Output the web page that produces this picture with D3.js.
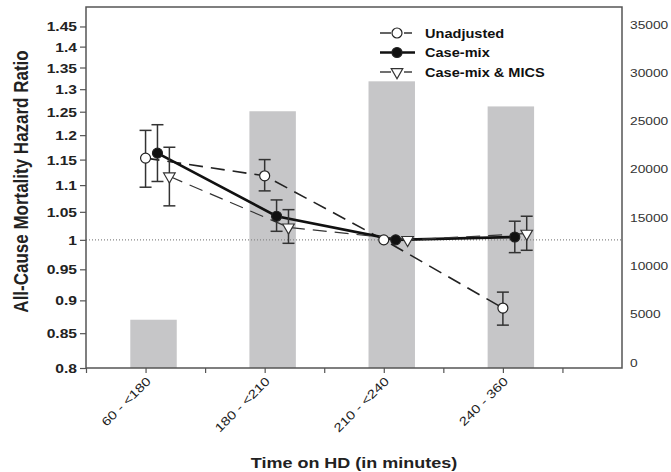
<!DOCTYPE html>
<html>
<head>
<meta charset="utf-8">
<script src="https://cdn.jsdelivr.net/npm/d3@7"></script>
<style>
  body { margin: 0; background: #fff; }
  svg { display: block; font-family: "Liberation Sans", Arial, sans-serif; }
</style>
</head>
<body>
<div class="g-chart"></div>
<script>
// categories + values
var categories = ["60 - <180", "180 - <210", "210 - <240", "240 - 360"];
var patientCounts = [5000, 26600, 29700, 27100];

var unadjusted   = [1.153, 1.118, 1.0, 0.888];
var unadjustedLo = [1.096, 1.089, null, 0.862];
var unadjustedHi = [1.210, 1.150, null, 0.913];

var caseMix   = [1.163, 1.042, 1.0, 1.005];
var caseMixLo = [1.107, 1.015, null, 0.978];
var caseMixHi = [1.222, 1.072, null, 1.033];

var caseMixMics   = [1.117, 1.022, 1.0, 1.011];
var caseMixMicsLo = [1.061, 0.994, null, 0.982];
var caseMixMicsHi = [1.175, 1.054, null, 1.042];

var leftTicks = [0.8, 0.85, 0.9, 0.95, 1, 1.05, 1.1, 1.15, 1.2, 1.25, 1.3, 1.35, 1.4, 1.45];
var rightTicks = [0, 5000, 10000, 15000, 20000, 25000, 30000, 35000];
var seriesNames = ["Unadjusted", "Case-mix", "Case-mix & MICS"];

var width = 671, height = 472;
var margin = {top: 7, right: 49, bottom: 104, left: 86};

var svg = d3.select(".g-chart").append("svg")
    .attr("width", width)
    .attr("height", height);

var x = d3.scaleLinear().domain([0, 4.5]).range([margin.left, width - margin.right]);
var y = d3.scaleLog().domain([0.8, 1.5]).range([height - margin.bottom, margin.top]);
var yR = d3.scaleLinear().domain([0, 37400]).range([height - margin.bottom, margin.top]);

var bottom = height - margin.bottom;
var sx = 1.25; // figure text is a bit wide

function fmt(v) { return String(+v.toFixed(2)); }

// bars (patients, right axis)
svg.selectAll(".bar")
    .data(patientCounts)
    .enter().append("rect")
    .attr("class", "bar")
    .attr("x", (d, i) => x(i + 0.565) - 23)
    .attr("width", x(0.39) - x(0))
    .attr("y", d => yR(d))
    .attr("height", d => bottom - yR(d))
    .style("fill", "#c6c6c8");

// reference line at HR = 1
svg.append("line")
    .attr("x1", x(0)).attr("x2", x(4.5))
    .attr("y1", y(1)).attr("y2", y(1))
    .style("stroke", "#888")
    .style("stroke-width", 1.2)
    .style("stroke-dasharray", "1,2");

// series
var series = [
  {name: seriesNames[0], vals: unadjusted, lo: unadjustedLo, hi: unadjustedHi, off: 0,
   stroke: "#222", sw: 1.6, dash: "14,8", marker: "open"},
  {name: seriesNames[1], vals: caseMix, lo: caseMixLo, hi: caseMixHi, off: 0.1,
   stroke: "#111", sw: 2.6, dash: null, marker: "filled"},
  {name: seriesNames[2], vals: caseMixMics, lo: caseMixMicsLo, hi: caseMixMicsHi, off: 0.2,
   stroke: "#333", sw: 1.2, dash: "14,8", marker: "tri"}
];

var line = d3.line();
var tri = d3.symbol().type(d3.symbolTriangle).size(58);

function drawMarker(g, kind, cx, cy) {
  if (kind == "tri") {
    g.append("path")
      .attr("d", tri())
      .attr("transform", `translate(${cx},${cy}) rotate(180)`)
      .style("fill", "#fff").style("stroke", "#333").style("stroke-width", 1.2);
  } else {
    g.append("circle")
      .attr("cx", cx).attr("cy", cy).attr("r", 5)
      .style("fill", kind == "filled" ? "#111" : "#fff")
      .style("stroke", "#222").style("stroke-width", 1.2);
  }
}

series.forEach(function(s) {
  var pts = s.vals.map((v, i) => [x(i + 0.5 + s.off), y(v)]);
  svg.append("path")
    .attr("d", line(pts))
    .style("fill", "none")
    .style("stroke", s.stroke)
    .style("stroke-width", s.sw)
    .style("stroke-dasharray", s.dash);
});

series.forEach(function(s) {
  var g = svg.append("g");
  s.vals.forEach(function(v, i) {
    var cx = x(i + 0.5 + s.off);
    if (s.lo[i] !== null) {
      g.append("line").attr("x1", cx).attr("x2", cx)
        .attr("y1", y(s.lo[i])).attr("y2", y(s.hi[i]));
      [s.lo[i], s.hi[i]].forEach(function(e) {
        g.append("line").attr("x1", cx - 6).attr("x2", cx + 6)
          .attr("y1", y(e)).attr("y2", y(e));
      });
    }
  });
  g.selectAll("line").style("stroke", "#333").style("stroke-width", 1.5);
  s.vals.forEach(function(v, i) {
    drawMarker(g, s.marker, x(i + 0.5 + s.off), y(v));
  });
});

// frame
svg.append("rect")
  .attr("x", x(0)).attr("y", margin.top)
  .attr("width", x(4.5) - x(0)).attr("height", bottom - margin.top)
  .style("fill", "none").style("stroke", "#555").style("stroke-width", 1.5);

// left axis
var yAxis = d3.axisLeft(y).tickValues(leftTicks).tickSize(6).tickFormat(fmt);
var gy = svg.append("g").attr("transform", `translate(${x(0)},0)`).call(yAxis);
gy.select(".domain").remove();
gy.selectAll(".tick line").style("stroke", "#555").style("stroke-width", 1.2);
gy.selectAll(".tick text")
  .attr("x", null).attr("dy", null)
  .attr("transform", `translate(-9,4.5) scale(${sx},1)`)
  .style("font-size", "12.5px").style("font-weight", "bold").style("fill", "#222");

// right axis (no tick marks)
var yAxisR = d3.axisRight(yR).tickValues(rightTicks).tickSize(0).tickFormat(d3.format("d"));
var gr = svg.append("g").attr("transform", `translate(${x(4.5) + 8},0)`).call(yAxisR);
gr.select(".domain").remove();
gr.selectAll(".tick text")
  .attr("x", null).attr("dy", null)
  .attr("transform", `translate(0,-2) scale(${sx},1)`)
  .style("font-size", "11px").style("fill", "#333");

// x axis: ticks at category centres and boundaries
var xTicks = d3.range(0, 4.5, 0.5);
var xAxis = d3.axisBottom(x).tickValues(xTicks).tickSize(5).tickFormat("");
var gx = svg.append("g").attr("transform", `translate(0,${bottom})`).call(xAxis);
gx.select(".domain").remove();
gx.selectAll(".tick line").style("stroke", "#555").style("stroke-width", 1.2);

svg.selectAll(".xlab")
  .data(categories)
  .enter().append("text")
  .attr("class", "xlab")
  .attr("transform", (d, i) => `translate(${x(i + 0.5) + 6},${bottom + 14}) rotate(-45) scale(${sx},1)`)
  .attr("text-anchor", "end")
  .style("font-size", "12px")
  .style("fill", "#222")
  .text(d => d);

// axis titles
svg.append("text")
  .attr("transform", `translate(28,${(margin.top + bottom) / 2 - 6}) rotate(-90) scale(1,1.15)`)
  .attr("text-anchor", "middle")
  .style("font-size", "17px").style("font-weight", "bold").style("fill", "#222")
  .text("All-Cause Mortality Hazard Ratio");

svg.append("text")
  .attr("transform", `translate(354,468) scale(1.2,1)`)
  .attr("text-anchor", "middle")
  .style("font-size", "15px").style("font-weight", "bold").style("fill", "#222")
  .text("Time on HD (in minutes)");

// legend
var legend = svg.append("g").attr("transform", "translate(380,33)");
series.forEach(function(s, k) {
  var ly = k * 19.5;
  var g = legend.append("g");
  if (s.dash) {
    g.append("line").attr("x1", 0).attr("x2", 11).attr("y1", ly).attr("y2", ly);
    g.append("line").attr("x1", 24).attr("x2", 32).attr("y1", ly).attr("y2", ly);
    g.selectAll("line").style("stroke", s.stroke).style("stroke-width", 1.4);
  } else {
    g.append("line").attr("x1", 0).attr("x2", 35).attr("y1", ly).attr("y2", ly)
      .style("stroke", s.stroke).style("stroke-width", s.sw);
  }
  drawMarker(g, s.marker, 17, ly);
  g.append("text")
    .attr("transform", `translate(45,${ly + 4.5}) scale(1.12,1)`)
    .style("font-size", "13px").style("font-weight", "bold").style("fill", "#111")
    .text(s.name);
});
</script>
</body>
</html>
